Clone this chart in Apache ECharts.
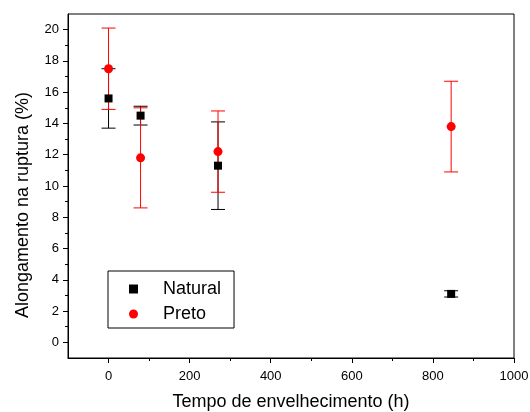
<!DOCTYPE html>
<html><head><meta charset="utf-8">
<script src="https://cdn.jsdelivr.net/npm/echarts@6/dist/echarts.min.js"></script>
<style>html,body{margin:0;padding:0;background:#fff}#c{width:530px;height:412px}</style>
</head><body><div id="c"></div>
<script>
const hours = [0, 79, 270, 845];
const naturalMean = [15.6, 14.5, 11.3, 3.1];
const naturalLow  = [13.7, 13.9, 8.5, 2.9];
const naturalHigh = [17.5, 15.1, 14.1, 3.3];
const pretoMean = [17.5, 11.8, 12.2, 13.8];
const pretoLow  = [14.9, 8.6, 9.6, 10.9];
const pretoHigh = [20.1, 15.0, 14.8, 16.7];
const xMajor = [0, 200, 400, 600, 800, 1000];
const xMinor = [100, 300, 500, 700, 900];
const yMajor = [0, 2, 4, 6, 8, 10, 12, 14, 16, 18, 20];
const yMinor = [1, 3, 5, 7, 9, 11, 13, 15, 17, 19];

const FONT = 'Liberation Sans, Arial, sans-serif';
function errData(lo, hi) { return hours.map((h, i) => [h, lo[i], hi[i]]); }
function errSeries(name, lo, hi, color) {
  return {
    type: 'custom', name: name, xAxisIndex: 0, yAxisIndex: 0, silent: true,
    data: errData(lo, hi), z: 2,
    encode: { x: 0, y: [1, 2] },
    renderItem: function (params, api) {
      const x = api.value(0);
      const a = api.coord([x, api.value(1)]);
      const b = api.coord([x, api.value(2)]);
      const w = 7;
      const st = { stroke: color, lineWidth: 1 };
      return { type: 'group', children: [
        { type: 'line', shape: { x1: a[0], y1: a[1], x2: b[0], y2: b[1] }, style: st },
        { type: 'line', shape: { x1: a[0] - w, y1: a[1], x2: a[0] + w, y2: a[1] }, style: st },
        { type: 'line', shape: { x1: b[0] - w, y1: b[1], x2: b[0] + w, y2: b[1] }, style: st }
      ]};
    }
  };
}
const chart = echarts.init(document.getElementById('c'));
chart.setOption({
  animation: false,
  backgroundColor: '#fff',
  textStyle: { fontFamily: FONT },
  grid: { left: 68, right: 16, top: 14, bottom: 54, containLabel: false, outerBoundsMode: 'none',
          show: true, borderColor: '#000', borderWidth: 1, backgroundColor: 'transparent' },
  legend: {
    orient: 'vertical', left: 108, top: 271,
    data: [{ name: 'Natural', icon: 'rect' }, { name: 'Preto', icon: 'circle' }],
    itemWidth: 9, itemHeight: 9, itemGap: 7,
    padding: [9, 13, 5, 21],
    borderColor: '#000', borderWidth: 1,
    textStyle: { fontSize: 18, color: '#000', fontFamily: FONT, padding: [0, 0, 0, 20] }
  },
  xAxis: [{
    type: 'value', min: -100, max: 1000, position: 'bottom',
    name: 'Tempo de envelhecimento (h)', nameLocation: 'middle', nameGap: 35,
    nameTextStyle: { fontSize: 18, color: '#000', fontFamily: FONT },
    axisLine: { show: true, onZero: false, lineStyle: { color: '#000', width: 1 } },
    axisTick: { show: true, length: 5, customValues: xMajor, lineStyle: { color: '#000' } },
    axisLabel: { customValues: xMajor, fontSize: 13, color: '#000', margin: 12, fontFamily: FONT,
                 formatter: function (v) { return String(v); } },
    splitLine: { show: false }
  }, {
    type: 'value', min: -100, max: 1000, position: 'bottom',
    axisLine: { show: false, onZero: false },
    axisTick: { show: true, length: 3, customValues: xMinor, lineStyle: { color: '#000' } },
    axisLabel: { show: false }, splitLine: { show: false }
  }],
  yAxis: [{
    type: 'value', min: -1, max: 21, position: 'left',
    name: 'Alongamento na ruptura (%)', nameLocation: 'middle', nameGap: 36,
    nameTextStyle: { fontSize: 18, color: '#000', fontFamily: FONT, padding: [0, 38, 0, 0] },
    axisLine: { show: true, onZero: false, lineStyle: { color: '#000', width: 1 } },
    axisTick: { show: true, length: 5, customValues: yMajor, lineStyle: { color: '#000' } },
    axisLabel: { customValues: yMajor, fontSize: 13, color: '#000', margin: 9, fontFamily: FONT },
    splitLine: { show: false }
  }, {
    type: 'value', min: -1, max: 21, position: 'left',
    axisLine: { show: false, onZero: false },
    axisTick: { show: true, length: 3, customValues: yMinor, lineStyle: { color: '#000' } },
    axisLabel: { show: false }, splitLine: { show: false }
  }],
  series: [
    errSeries('NaturalErr', naturalLow, naturalHigh, '#000'),
    errSeries('PretoErr', pretoLow, pretoHigh, '#ff0000'),
    { type: 'scatter', name: 'Natural', symbol: 'rect', symbolSize: 8, z: 3,
      itemStyle: { color: '#000', opacity: 1 },
      data: hours.map((h, i) => [h, naturalMean[i]]) },
    { type: 'scatter', name: 'Preto', symbol: 'circle', symbolSize: 9, z: 4,
      itemStyle: { color: '#ff0000', opacity: 1 },
      data: hours.map((h, i) => [h, pretoMean[i]]) }
  ]
});
</script></body></html>
